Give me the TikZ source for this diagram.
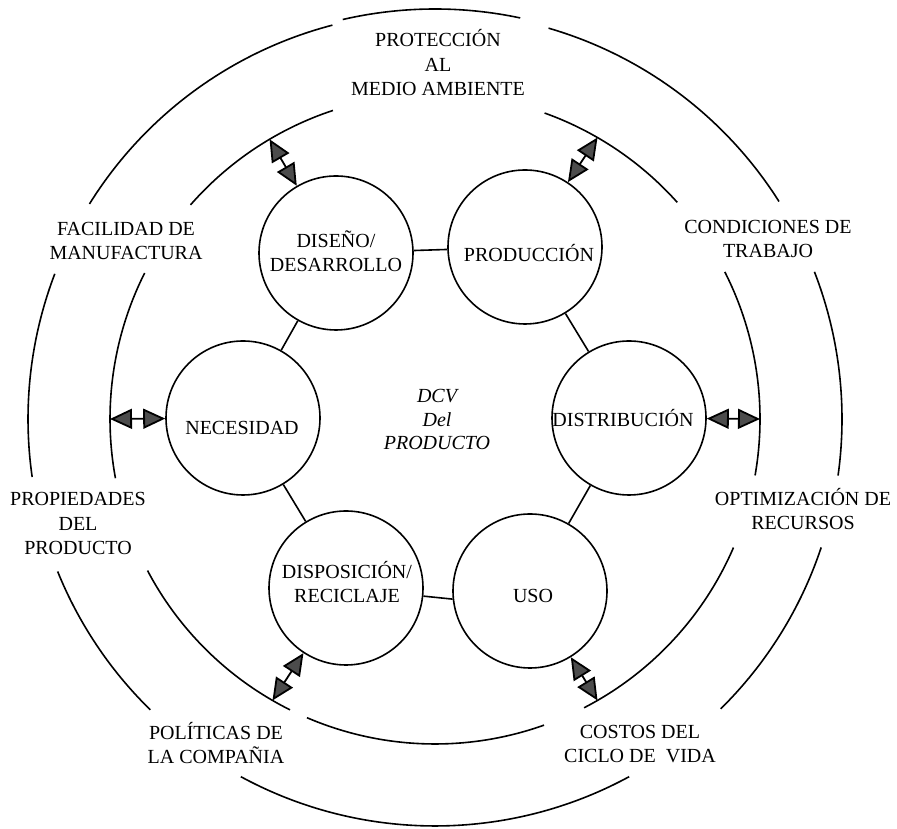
\documentclass[tikz,border=0pt]{standalone}
\usepackage{fontspec}
\setmainfont{Liberation Serif}
\usetikzlibrary{arrows.meta,calc}
\begin{document}
\begin{tikzpicture}[x=1pt,y=1pt,
  stage/.style={circle,draw,line width=1.6pt,minimum size=154pt,inner sep=0pt},
  ring/.style={line width=1.6pt},
  link/.style={line width=1.6pt},
  txt/.style={font=\fontsize{20}{24.5}\selectfont,align=center,anchor=base,inner sep=0pt},
  flow/.style={line width=1.8pt,{Triangle[length=22pt,width=20pt,fill=black!70]}-{Triangle[length=22pt,width=20pt,fill=black!70]}},
]
\useasboundingbox (0,0) rectangle (897,829);
\coordinate (C) at (435,410);

% outer ring, broken where the outer labels sit
\foreach \a/\b in {148.1/104.6, 73.8/32.3, 21.2/-8, -18.4/-45.4, -61.5/-118.5, -134.4/-158, 159.1/188.2}
  \draw[ring] ($(C)+(\a:407)$) arc[start angle=\a,end angle=\b,radius=407];
\draw[ring] ($(C)+(103:410)$) arc[start angle=103,end angle=78,radius=410];

% inner ring
\foreach \a/\b in {138.8/108.3, 70.3/41.8, 26.9/-10, -23.3/-62.7, -70.4/-113.2, -116.5/-152.2, 153.3/190.5}
  \draw[ring] ($(C)+(\a:325)$) arc[start angle=\a,end angle=\b,radius=325];

% life-cycle stages
\node[stage] (dis)  at (336,576) {};
\node[stage] (prod) at (525,582) {};
\node[stage] (dist) at (629,411) {};
\node[stage] (uso)  at (530,238) {};
\node[stage] (disp) at (346,241) {};
\node[stage] (nec)  at (243,411) {};

% stage names (multi-line names are placed by their last baseline)
\node[txt] (dis-t)  at (336,557) {DISEÑO/\\DESARROLLO};
\node[txt] (prod-t) at (529,567) {PRODUCCIÓN};
\node[txt] (dist-t) at (623,402) {DISTRIBUCIÓN};
\node[txt] (uso-t)  at (533,226) {USO};
\node[txt] (disp-t) at (347,226) {DISPOSICIÓN/\\RECICLAJE};
\node[txt] (nec-t)  at (242,394) {NECESIDAD};

% links between neighbouring stages
\draw[link] (dis) -- (prod);
\draw[link] (prod) -- (dist);
\draw[link] (dist) -- (uso);
\draw[link] (uso.186) -- (disp.-6);
\draw[link] (disp) -- (nec);
\draw[link] (nec) -- (dis);

% centre title
\node[txt,font=\fontsize{20}{23.5}\selectfont\itshape] (title) at (437,379) {DCV\\Del\\PRODUCTO};

% double arrows between stages and the inner ring
\coordinate (r-dis)  at ($(C)+(120.6:325)$);
\coordinate (r-prod) at ($(C)+(60:325)$);
\coordinate (r-dist) at ($(C)+(0:325)$);
\coordinate (r-uso)  at ($(C)+(-60:325)$);
\coordinate (r-disp) at ($(C)+(-120:325)$);
\coordinate (r-nec)  at ($(C)+(180:325)$);
\draw[flow] (r-dis) -- (dis);
\draw[flow] (r-prod) -- (prod);
\draw[flow] (r-dist) -- (dist);
\draw[flow] (r-uso) -- (uso);
\draw[flow] (r-disp) -- (disp);
\draw[flow] (r-nec) -- (nec);

% factors around the cycle
\node[txt] (f-prot) at (438,733) {PROTECCIÓN\\AL\\MEDIO AMBIENTE};
\node[txt] (f-fac)  at (126,569) {FACILIDAD DE\\MANUFACTURA};
\node[txt] (f-cond) at (768,571) {CONDICIONES DE\\TRABAJO};
\node[txt] (f-prop) at (78,274)  {PROPIEDADES\\DEL\\PRODUCTO};
\node[txt] (f-opt)  at (803,299) {OPTIMIZACIÓN DE\\RECURSOS};
\node[txt] (f-pol)  at (216,65)  {POLÍTICAS DE\\LA COMPAÑIA};
\node[txt] (f-cost) at (640,66)  {COSTOS DEL\\CICLO DE\enspace VIDA};
\end{tikzpicture}
\end{document}
